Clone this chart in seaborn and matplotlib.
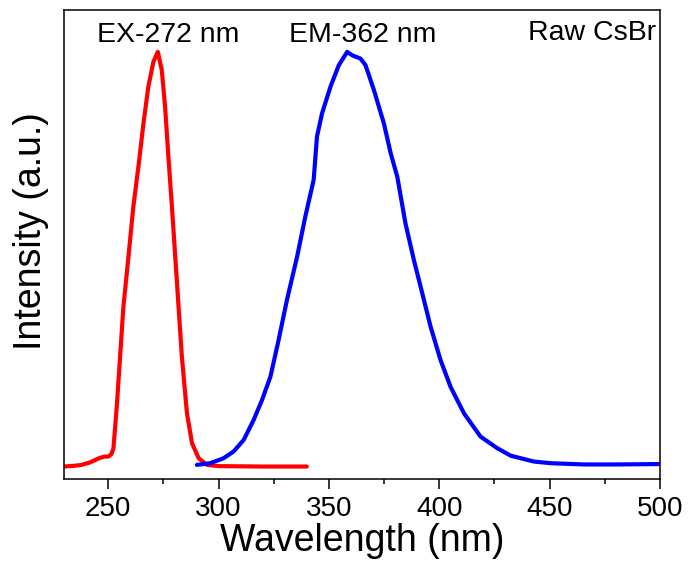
import numpy as np
import pandas as pd
import matplotlib
matplotlib.use("Agg")
import matplotlib.pyplot as plt
import seaborn as sns
from matplotlib.ticker import MultipleLocator

# Excitation spectrum (EX-272 nm)
ex_wl = [230, 235, 238, 241.8, 246.3, 248.5, 250.1, 251.5, 252.4, 253.9, 255.4, 256.9, 259.2, 261.4,
         263.7, 266.0, 268.2, 270.5, 272.5, 274.3, 275.8, 277.3, 278.9, 280.4, 281.9,
         283.4, 285.7, 288.0, 291.0, 294.8, 300, 320, 340]
ex_int = [0.0, 0.002, 0.004, 0.010, 0.021, 0.024, 0.024, 0.030, 0.044, 0.144, 0.264, 0.384, 0.505, 0.625,
          0.721, 0.826, 0.914, 0.974, 0.998, 0.954, 0.866, 0.745, 0.625, 0.505, 0.384,
          0.264, 0.128, 0.056, 0.020, 0.004, 0.001, 0.0, 0.0]

# Emission spectrum (EM-362 nm)
em_wl = [290.2, 296.2, 302.3, 306.8, 311.4, 315.9, 319.7, 323.5, 327.2, 331.0, 335.6, 339.3,
         343.1, 344.6, 346.9, 350.7, 354.5, 358.3, 360.5, 361.3, 364.3, 366.6, 370.4, 374.9,
         378.0, 381.0, 384.7, 388.5, 392.3, 396.1, 400.6, 405.1, 411.2, 418.7, 426.3, 432.4,
         442.9, 450.5, 465.6, 480, 500]
em_int = [0.004, 0.008, 0.020, 0.036, 0.064, 0.112, 0.160, 0.216, 0.304, 0.401, 0.505, 0.601,
          0.690, 0.794, 0.850, 0.914, 0.966, 0.998, 0.990, 0.988, 0.982, 0.966, 0.906, 0.826,
          0.754, 0.697, 0.585, 0.497, 0.417, 0.336, 0.256, 0.192, 0.128, 0.072, 0.044, 0.026,
          0.012, 0.008, 0.005, 0.005, 0.006]

x_ticks = [250, 300, 350, 400, 450, 500]
labels = ["EX-272 nm", "EM-362 nm", "Raw CsBr"]

sns.set_style("ticks")
plt.rcParams['font.family'] = ['Liberation Sans', 'DejaVu Sans']
plt.rcParams['text.color'] = 'black'
plt.rcParams['axes.labelcolor'] = 'black'
plt.rcParams['xtick.color'] = 'black'
plt.rcParams['ytick.color'] = 'black'

fig = plt.figure(figsize=(6.91, 5.70), dpi=100)
ax = fig.add_axes([64/691, 1 - 479/570, (660 - 64)/691, (479 - 9.5)/570])

ex_df = pd.DataFrame({"wl": ex_wl, "I": ex_int})
em_df = pd.DataFrame({"wl": em_wl, "I": em_int})
sns.lineplot(data=ex_df, x="wl", y="I", ax=ax, color="#ff0000", lw=3.0, sort=False)
sns.lineplot(data=em_df, x="wl", y="I", ax=ax, color="#0000ff", lw=3.0, sort=False)

ax.set_xlim(230, 500)
ax.set_ylim(-0.03, 1.1)
ax.set_xticks(x_ticks)
ax.set_xticklabels([str(t) for t in x_ticks])
ax.xaxis.set_minor_locator(MultipleLocator(25))
ax.set_yticks([])
ax.tick_params(axis='x', which='major', length=7, width=1.1, labelsize=20, pad=5,
               direction='out', colors='black')
ax.tick_params(axis='x', which='minor', length=3.5, width=1.1, direction='out', colors='black')
for s in ax.spines.values():
    s.set_linewidth(1.1)
    s.set_color('black')

ax.set_xlabel("Wavelength (nm)", fontsize=27, labelpad=1, color='black')
ax.set_ylabel("Intensity (a.u.)", fontsize=27, labelpad=11, color='black')
ax.yaxis.label.set_y(0.529)

ax.text(277.2, 1.022, labels[0], ha='center', va='baseline', fontsize=20.5, color='black')
ax.text(365.2, 1.022, labels[1], ha='center', va='baseline', fontsize=20.5, color='black')
ax.text(498.2, 1.027, labels[2], ha='right', va='baseline', fontsize=20.5, color='black')

fig.savefig("out.png", dpi=100)
